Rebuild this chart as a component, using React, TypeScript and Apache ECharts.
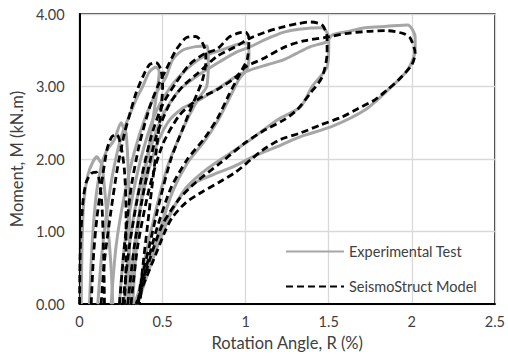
import React, { useEffect, useRef } from "react";
import * as echarts from "echarts";

// Rotation angle R (%) vs Moment M (kN.m), one array per loading cycle
const expCycle1: number[][] = [[0.01,0],[0.015,0.8],[0.025,1.4],[0.05,1.78],[0.08,1.96],[0.105,2.03],[0.12,1.98],[0.135,1.92],[0.15,1.6],[0.17,1.1],[0.19,0.5],[0.2,0]];
const expCycle2: number[][] = [[0.06,0],[0.075,0.8],[0.1,1.5],[0.13,1.9],[0.16,2.1],[0.21,2.27],[0.25,2.5],[0.265,2.43],[0.28,2.36],[0.29,2.0],[0.3,1.3],[0.3,0.6],[0.29,0]];
const expCycle3: number[][] = [[0.11,0],[0.13,0.6],[0.16,1.2],[0.2,1.8],[0.25,2.3],[0.3,2.6],[0.34,2.82],[0.38,3.0],[0.42,3.2],[0.46,3.27],[0.48,3.2],[0.47,3.0],[0.45,2.68],[0.42,2.2],[0.38,1.6],[0.35,1.0],[0.33,0.4],[0.32,0]];
const expCycle4: number[][] = [[0.19,0],[0.22,0.8],[0.27,1.5],[0.33,2.1],[0.4,2.6],[0.46,2.9],[0.52,3.13],[0.56,3.37],[0.62,3.5],[0.7,3.55],[0.77,3.56],[0.775,3.33],[0.765,3.0],[0.72,2.85],[0.66,2.6],[0.6,2.3],[0.53,1.9],[0.46,1.3],[0.4,0.7],[0.36,0.2],[0.35,0]];
const expCycle5: number[][] = [[0.24,0],[0.27,0.8],[0.32,1.5],[0.38,2.1],[0.46,2.65],[0.55,3.0],[0.65,3.25],[0.75,3.42],[0.85,3.5],[0.95,3.58],[1.01,3.6],[1.02,3.45],[1.01,3.25],[0.96,3.1],[0.9,2.83],[0.83,2.52],[0.75,2.24],[0.65,1.95],[0.56,1.55],[0.48,1.0],[0.41,0.5],[0.36,0.1],[0.34,0]];
const expCycle6: number[][] = [[0.27,0],[0.3,0.8],[0.35,1.5],[0.42,2.1],[0.5,2.6],[0.6,2.95],[0.71,3.15],[0.85,3.35],[0.95,3.48],[1.03,3.55],[1.12,3.65],[1.23,3.75],[1.32,3.79],[1.46,3.81],[1.5,3.68],[1.5,3.55],[1.49,3.27],[1.4,3.0],[1.33,2.72],[1.19,2.54],[1.03,2.27],[0.9,2.07],[0.76,1.85],[0.64,1.6],[0.55,1.25],[0.47,0.8],[0.4,0.35],[0.35,0]];
const expCycle7: number[][] = [[0.3,0],[0.33,0.8],[0.38,1.5],[0.45,2.1],[0.53,2.5],[0.62,2.7],[0.71,2.8],[0.85,3.0],[0.95,3.15],[1.03,3.23],[1.13,3.3],[1.23,3.37],[1.3,3.45],[1.39,3.55],[1.49,3.62],[1.52,3.71],[1.62,3.76],[1.72,3.81],[1.85,3.83],[1.975,3.85],[2.02,3.68],[2.02,3.5],[1.975,3.23],[1.86,2.96],[1.72,2.68],[1.52,2.45],[1.33,2.31],[1.19,2.17],[1.06,2.05],[0.93,1.9],[0.8,1.78],[0.7,1.68],[0.62,1.52],[0.56,1.31],[0.5,1.05],[0.44,0.72],[0.38,0.32],[0.33,0]];

const modelCycle1: number[][] = [[0,0],[0.005,0.8],[0.02,1.4],[0.04,1.68],[0.07,1.8],[0.1,1.82],[0.12,1.7],[0.135,1.35],[0.145,0.7],[0.15,0]];
const modelCycle2: number[][] = [[0.07,0],[0.085,0.7],[0.105,1.2],[0.13,1.62],[0.165,2.13],[0.195,2.31],[0.224,2.34],[0.25,2.17],[0.27,1.85],[0.28,1.3],[0.28,0.6],[0.27,0]];
const modelCycle3: number[][] = [[0.13,0],[0.15,0.6],[0.19,1.3],[0.23,1.9],[0.27,2.35],[0.31,2.68],[0.34,2.91],[0.38,3.13],[0.42,3.3],[0.46,3.33],[0.49,3.23],[0.5,3.0],[0.49,2.68],[0.47,2.27],[0.44,1.7],[0.41,1.1],[0.38,0.5],[0.36,0]];
const modelCycle4: number[][] = [[0.24,0],[0.27,0.8],[0.31,1.6],[0.36,2.2],[0.42,2.7],[0.47,3.0],[0.52,3.23],[0.58,3.5],[0.64,3.67],[0.7,3.69],[0.74,3.6],[0.76,3.46],[0.76,3.33],[0.74,3.09],[0.7,2.86],[0.66,2.64],[0.62,2.41],[0.55,2.0],[0.48,1.4],[0.42,0.8],[0.37,0.3],[0.35,0]];
const modelCycle5: number[][] = [[0.26,0],[0.3,0.8],[0.36,1.6],[0.43,2.3],[0.5,2.75],[0.58,3.05],[0.66,3.3],[0.75,3.45],[0.83,3.52],[0.9,3.68],[0.96,3.74],[1.0,3.75],[1.02,3.66],[1.01,3.38],[0.98,3.24],[0.9,2.89],[0.83,2.56],[0.75,2.28],[0.65,2.0],[0.55,1.6],[0.46,1.0],[0.39,0.4],[0.36,0]];
const modelCycle6: number[][] = [[0.29,0],[0.33,0.8],[0.39,1.6],[0.46,2.3],[0.54,2.75],[0.62,3.0],[0.71,3.18],[0.83,3.42],[0.94,3.55],[1.02,3.66],[1.12,3.75],[1.22,3.82],[1.32,3.87],[1.39,3.89],[1.46,3.85],[1.49,3.68],[1.49,3.46],[1.46,3.13],[1.39,2.91],[1.31,2.68],[1.23,2.54],[1.1,2.38],[1.0,2.23],[0.85,1.95],[0.7,1.68],[0.6,1.45],[0.5,1.1],[0.42,0.6],[0.36,0.1],[0.35,0]];
const modelCycle7: number[][] = [[0.31,0],[0.35,0.8],[0.42,1.6],[0.5,2.2],[0.6,2.6],[0.71,2.82],[0.83,2.96],[0.94,3.13],[1.0,3.27],[1.1,3.38],[1.24,3.55],[1.35,3.63],[1.49,3.68],[1.6,3.73],[1.73,3.76],[1.85,3.77],[1.95,3.73],[1.99,3.67],[2.02,3.46],[2.0,3.3],[1.92,3.09],[1.85,2.95],[1.78,2.82],[1.68,2.7],[1.58,2.58],[1.45,2.47],[1.33,2.36],[1.21,2.27],[1.1,2.12],[1.03,1.99],[0.94,1.82],[0.84,1.68],[0.74,1.55],[0.64,1.4],[0.56,1.2],[0.52,1.03],[0.47,0.75],[0.44,0.58],[0.39,0.3],[0.34,0]];

const expCycles = [expCycle1, expCycle2, expCycle3, expCycle4, expCycle5, expCycle6, expCycle7];
const modelCycles = [modelCycle1, modelCycle2, modelCycle3, modelCycle4, modelCycle5, modelCycle6, modelCycle7];

const xTicks = [0, 0.5, 1, 1.5, 2, 2.5];
const yTicks = [0, 1, 2, 3, 4];

const EXP = "Experimental Test";
const MODEL = "SeismoStruct Model";
const FONT = "Lato";
const TXT = "#404040";

export default function App() {
  const ref = useRef<HTMLDivElement>(null);
  useEffect(() => {
    if (!ref.current) return;
    const chart = echarts.init(ref.current, null, { renderer: "svg" });
    const series: any[] = [];
    expCycles.forEach((d) =>
      series.push({
        name: EXP,
        type: "line",
        data: d,
        symbol: "none",
        showSymbol: false,
        smooth: 0.25,
        lineStyle: { color: "#a6a6a6", width: 3 },
        itemStyle: { color: "#a6a6a6" },
        z: 2,
      })
    );
    modelCycles.forEach((d) =>
      series.push({
        name: MODEL,
        type: "line",
        data: d,
        symbol: "none",
        showSymbol: false,
        smooth: 0.25,
        lineStyle: { color: "#000000", width: 2.8, type: [7, 4] },
        itemStyle: { color: "#000000" },
        z: 3,
      })
    );
    chart.setOption({
      animation: false,
      backgroundColor: "#ffffff",
      grid: {
        left: 75,
        right: 9,
        top: 14,
        bottom: 51,
        show: true,
        borderColor: "#000000",
        borderWidth: 1.3,
      },
      legend: {
        data: [EXP, MODEL],
        orient: "vertical",
        left: 285,
        top: 244,
        padding: 0,
        itemWidth: 58,
        itemHeight: 14,
        itemGap: 20,
        itemStyle: { color: "transparent", borderColor: "transparent", borderWidth: 0 },
        textStyle: { color: TXT, fontSize: 14.5, fontFamily: FONT },
      },
      xAxis: {
        type: "value",
        min: xTicks[0],
        max: xTicks[xTicks.length - 1],
        interval: 0.5,
        name: "Rotation Angle, R (%)",
        nameLocation: "middle",
        nameGap: 29,
        nameTextStyle: { color: TXT, fontSize: 16.5, fontFamily: FONT },
        axisLine: { lineStyle: { color: "#000000", width: 2 } },
        axisTick: { show: false },
        splitLine: { show: true, lineStyle: { color: "#d9d9d9", width: 1.3 } },
        axisLabel: {
          color: TXT,
          fontSize: 14.5,
          fontFamily: FONT,
          margin: 10,
          formatter: (v: number) => String(v),
        },
      },
      yAxis: {
        type: "value",
        min: yTicks[0],
        max: yTicks[yTicks.length - 1],
        interval: 1,
        name: "Moment, M (kN.m)",
        nameLocation: "middle",
        nameGap: 49,
        nameTextStyle: { color: TXT, fontSize: 16.5, fontFamily: FONT },
        axisLine: { show: true, lineStyle: { color: "#000000", width: 2 } },
        axisTick: { show: false },
        splitLine: { show: true, lineStyle: { color: "#d9d9d9", width: 1.3 } },
        axisLabel: {
          color: TXT,
          fontSize: 14.5,
          fontFamily: FONT,
          margin: 15,
          formatter: (v: number) => v.toFixed(2),
        },
      },
      series,
    });
    return () => chart.dispose();
  }, []);
  return (
    <div
      ref={ref}
      style={{ position: "fixed", left: 0, top: 0, width: 508, height: 356, background: "#fff" }}
    />
  );
}
